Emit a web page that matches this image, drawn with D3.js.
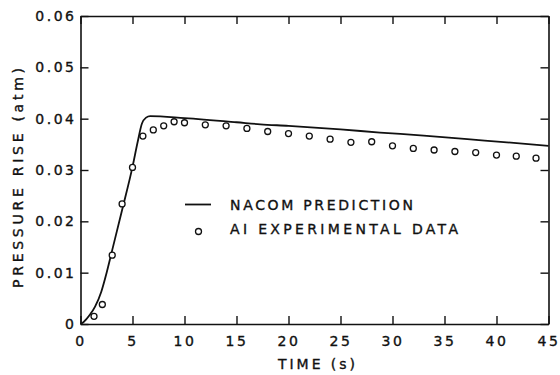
<!DOCTYPE html>
<html>
<head>
<meta charset="utf-8">
<script src="https://cdn.jsdelivr.net/npm/d3@7"></script>
<style>
  body { margin: 0; background: #fff; }
  svg text { font-family: "DejaVu Sans", sans-serif; fill: #111; stroke: #111; stroke-width: 0.35px; }
</style>
</head>
<body>
<div id="chart"></div>
<script>
// experimental points (AI)
const expTime = [1.3, 2.1, 3.05, 4.0, 5.0, 6.0, 7.0, 8.0, 9.0, 10.0, 12.0, 14.0, 16.0, 18.0, 20.0,
                 22.0, 24.0, 26.0, 28.0, 30.0, 32.0, 34.0, 36.0, 38.0, 40.0, 41.9, 43.8];
const expPressure = [0.0015, 0.0038, 0.0134, 0.0234, 0.0305, 0.0366, 0.0378, 0.0386, 0.0394, 0.0392,
                     0.0388, 0.0386, 0.0381, 0.0375, 0.0371, 0.0366, 0.0360, 0.0354, 0.0355, 0.0347,
                     0.0342, 0.0339, 0.0336, 0.0334, 0.0329, 0.0327, 0.0323];
// NACOM prediction curve
const predTime = [0, 0.3, 0.9, 1.4, 2.0, 2.5, 3.0, 4.0, 5.0, 5.5, 5.9, 6.3, 6.7, 10, 15, 17.3, 20,
                  25, 28.8, 33, 37.2, 41, 45];
const predPressure = [0, 0.0004, 0.0018, 0.0034, 0.0063, 0.0099, 0.0140, 0.0222, 0.0306, 0.0355,
                      0.0390, 0.0402, 0.0405, 0.0401, 0.0393, 0.0389, 0.0386, 0.0379, 0.0373,
                      0.0367, 0.0360, 0.0354, 0.0347];
const xTicks = [0, 5, 10, 15, 20, 25, 30, 35, 40, 45];
const yTicks = [0, 0.01, 0.02, 0.03, 0.04, 0.05, 0.06];
const yTickLabels = ["0", "0.01", "0.02", "0.03", "0.04", "0.05", "0.06"];

const WIDTH = 560, HEIGHT = 375;
const LEFT = 80.5, RIGHT = 548.5, TOP = 16, BOTTOM = 324;
const TICK = 8;

let xScale = d3.scaleLinear().domain([0, 45]).range([LEFT, RIGHT]);
let yScale = d3.scaleLinear().domain([0, 0.06]).range([BOTTOM, TOP]);

let svg = d3.select("#chart").append("svg")
            .attr("width", WIDTH)
            .attr("height", HEIGHT);

// axes, ticks pointing inward on all four sides
let xAxis = d3.axisBottom(xScale).tickValues(xTicks).tickSizeInner(-TICK).tickSizeOuter(0)
              .tickPadding(12).tickFormat(d3.format("d"));
let gx = svg.append("g").attr("transform", "translate(0," + BOTTOM + ")").call(xAxis);

let yAxis = d3.axisLeft(yScale).tickValues(yTicks).tickSizeInner(-TICK).tickSizeOuter(0)
              .tickPadding(5).tickFormat((d, i) => yTickLabels[i]);
let gy = svg.append("g").attr("transform", "translate(" + LEFT + ",0)").call(yAxis);

svg.append("g").attr("transform", "translate(0," + TOP + ")")
   .call(d3.axisTop(xScale).tickValues(xTicks).tickSizeInner(-TICK).tickSizeOuter(0).tickFormat(""));
svg.append("g").attr("transform", "translate(" + RIGHT + ",0)")
   .call(d3.axisRight(yScale).tickValues(yTicks).tickSizeInner(-TICK).tickSizeOuter(0).tickFormat(""));

svg.selectAll(".domain").attr("stroke", "#111").attr("stroke-width", 1.6);
svg.selectAll(".tick line").attr("stroke", "#111").attr("stroke-width", 1.4);
svg.selectAll(".tick text").attr("font-size", 14).attr("fill", "#111")
   .style("letter-spacing", "2.5px");
gy.selectAll(".tick text").attr("dx", "1px");

// prediction line
let line = d3.line().x(d => xScale(d[0])).y(d => yScale(d[1])).curve(d3.curveMonotoneX);
svg.append("path")
   .datum(predTime.map((t, i) => [t, predPressure[i]]))
   .attr("d", line)
   .attr("fill", "none")
   .attr("stroke", "#111")
   .attr("stroke-width", 1.8)
   .attr("stroke-linejoin", "round");

// experimental circles
svg.selectAll("circle.exp")
   .data(expTime.map((t, i) => [t, expPressure[i]]))
   .enter().append("circle")
   .attr("class", "exp")
   .attr("cx", d => xScale(d[0]))
   .attr("cy", d => yScale(d[1]))
   .attr("r", 3)
   .attr("fill", "#fff")
   .attr("stroke", "#111")
   .attr("stroke-width", 1.3);

// axis titles
svg.append("text")
   .attr("x", 278).attr("y", 369)
   .attr("font-size", 14)
   .attr("textLength", 77).attr("lengthAdjust", "spacing")
   .text("TIME (s)");

svg.append("text")
   .attr("transform", "translate(23,288) rotate(-90)")
   .attr("font-size", 14)
   .attr("textLength", 220).attr("lengthAdjust", "spacing")
   .text("PRESSURE RISE (atm)");

// legend
svg.append("line")
   .attr("x1", 185).attr("x2", 211).attr("y1", 204.5).attr("y2", 204.5)
   .attr("stroke", "#111").attr("stroke-width", 1.8);
svg.append("text")
   .attr("x", 230).attr("y", 209.5)
   .attr("font-size", 14)
   .attr("textLength", 183).attr("lengthAdjust", "spacing")
   .text("NACOM PREDICTION");
svg.append("circle")
   .attr("cx", 198.5).attr("cy", 231.5).attr("r", 3)
   .attr("fill", "#fff").attr("stroke", "#111").attr("stroke-width", 1.3);
svg.append("text")
   .attr("x", 230).attr("y", 233.5)
   .attr("font-size", 14)
   .attr("textLength", 228).attr("lengthAdjust", "spacing")
   .text("AI EXPERIMENTAL DATA");
</script>
</body>
</html>
